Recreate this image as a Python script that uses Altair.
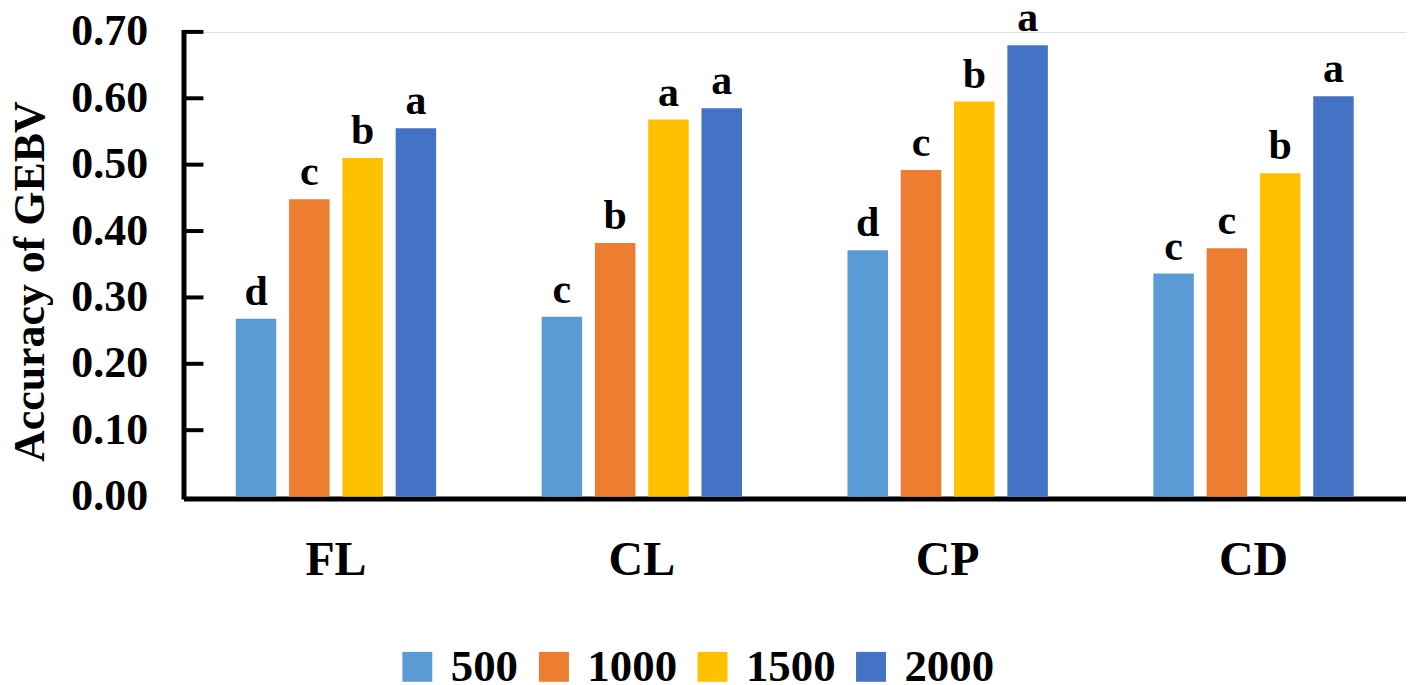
import altair as alt
import pandas as pd

traits = ["FL", "CL", "CP", "CD"]
sizes = ["500", "1000", "1500", "2000"]
colors = ["#5B9BD5", "#ED7D31", "#FFC000", "#4472C4"]

acc_500 = [0.268, 0.271, 0.371, 0.336]
acc_1000 = [0.448, 0.382, 0.492, 0.374]
acc_1500 = [0.510, 0.568, 0.595, 0.487]
acc_2000 = [0.555, 0.585, 0.680, 0.603]

let_500 = ["d", "c", "d", "c"]
let_1000 = ["c", "b", "c", "c"]
let_1500 = ["b", "a", "b", "b"]
let_2000 = ["a", "a", "a", "a"]

y_ticks = [0.0, 0.1, 0.2, 0.3, 0.4, 0.5, 0.6, 0.7]

rows = []
for s, vals, lets in zip(sizes, [acc_500, acc_1000, acc_1500, acc_2000],
                         [let_500, let_1000, let_1500, let_2000]):
    for t, v, l in zip(traits, vals, lets):
        rows.append({"trait": t, "size": s, "acc": v, "letter": l})
df = pd.DataFrame(rows)
ticks_df = pd.DataFrame({"v": y_ticks[1:]})

FONT = "Liberation Serif"

x_enc = alt.X("trait:N", sort=traits,
              scale=alt.Scale(paddingInner=0.303, paddingOuter=0.15),
              axis=alt.Axis(title=None, ticks=False, labelFont=FONT, labelFontSize=48,
                            labelFontWeight="bold", labelColor="black", labelAngle=0,
                            labelBaseline="alphabetic", labelPadding=76, offset=2,
                            domainColor="black", domainWidth=5))
y_scale = alt.Scale(domain=[0, 0.7], nice=False, zero=True)
xoff = alt.XOffset("size:N", sort=sizes,
                   scale=alt.Scale(paddingInner=0.24, paddingOuter=0.12))

bars = alt.Chart(df).mark_bar().encode(
    x=x_enc,
    xOffset=xoff,
    y=alt.Y("acc:Q", scale=y_scale,
            axis=alt.Axis(title="Accuracy of GEBV", values=y_ticks, format=".2f",
                          ticks=False, grid=False, labelFont=FONT, labelFontSize=44,
                          labelFontWeight="bold", labelColor="black", labelPadding=36,
                          domainColor="black", domainWidth=5, domainCap="square",
                          titleFont=FONT, titleFontSize=44, titleFontWeight="bold",
                          titleColor="black", titleX=-140, titleY=250,
                          titleBaseline="alphabetic")),
    color=alt.Color("size:N", sort=sizes,
                    scale=alt.Scale(domain=sizes, range=colors),
                    legend=alt.Legend(title=None, orient="none", legendX=212, legendY=614,
                                      direction="horizontal", columns=4,
                                      symbolType="square", symbolSize=900,
                                      symbolStrokeWidth=0, labelFont=FONT,
                                      labelFontSize=45, labelFontWeight="bold",
                                      labelColor="black", labelOffset=11,
                                      columnPadding=13, padding=0, labelLimit=300)),
)

labels = alt.Chart(df).mark_text(font=FONT, fontSize=42, fontWeight="bold",
                                 color="black", baseline="alphabetic", dy=-14).encode(
    x=alt.X("trait:N", sort=traits),
    xOffset=alt.XOffset("size:N", sort=sizes),
    y=alt.Y("acc:Q"),
    text="letter:N",
)

inner_ticks = alt.Chart(ticks_df).mark_rule(color="black", strokeWidth=4).encode(
    y=alt.Y("v:Q"),
    x=alt.value(0),
    x2=alt.value(20),
)

chart = alt.layer(bars, labels, inner_ticks).properties(
    width=1226, height=466,
    padding={"left": 176, "top": 23, "right": 0, "bottom": 188},
    autosize="none",
).configure_view(stroke=None).configure(background="white")

chart.save("out.html", embed_options={"renderer": "svg", "actions": False})
